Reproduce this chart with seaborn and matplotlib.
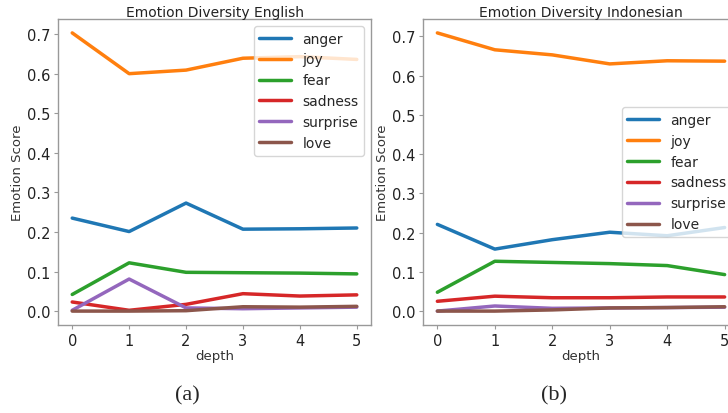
import matplotlib
matplotlib.use("Agg")
import matplotlib.pyplot as plt
import seaborn as sns
import pandas as pd

depth = [0, 1, 2, 3, 4, 5]
emotions = ["anger", "joy", "fear", "sadness", "surprise", "love"]

en_anger = [0.235, 0.201, 0.273, 0.207, 0.208, 0.210]
en_joy = [0.703, 0.600, 0.609, 0.639, 0.643, 0.636]
en_fear = [0.042, 0.122, 0.098, 0.097, 0.096, 0.094]
en_sadness = [0.023, 0.002, 0.017, 0.044, 0.038, 0.041]
en_surprise = [0.002, 0.081, 0.008, 0.006, 0.008, 0.010]
en_love = [0.0, 0.0, 0.001, 0.011, 0.010, 0.012]

id_anger = [0.221, 0.158, 0.182, 0.201, 0.192, 0.213]
id_joy = [0.709, 0.666, 0.653, 0.630, 0.638, 0.637]
id_fear = [0.048, 0.127, 0.124, 0.121, 0.116, 0.093]
id_sadness = [0.025, 0.038, 0.034, 0.034, 0.036, 0.036]
id_surprise = [0.0, 0.013, 0.007, 0.008, 0.009, 0.010]
id_love = [0.0, 0.0, 0.003, 0.008, 0.009, 0.011]

titles = ["Emotion Diversity English", "Emotion Diversity Indonesian"]
captions = ["(a)", "(b)"]

en = [en_anger, en_joy, en_fear, en_sadness, en_surprise, en_love]
idn = [id_anger, id_joy, id_fear, id_sadness, id_surprise, id_love]


def long_df(series):
    rows = []
    for emo, vals in zip(emotions, series):
        for d, v in zip(depth, vals):
            rows.append({"depth": d, "score": v, "emotion": emo})
    return pd.DataFrame(rows)


sns.set_style("white")
plt.rcParams["font.family"] = ["DejaVu Sans"]

fig = plt.figure(figsize=(7.28, 4.14), dpi=100)
W, H = 728, 414
ax_boxes = [(58, 20, 371, 326), (423, 20, 739, 326)]
legend_locs = ["upper right", "center right"]
cap_x = [187, 554]

for i, (series, box) in enumerate(zip([en, idn], ax_boxes)):
    x0, y0, x1, y1 = box
    ax = fig.add_axes([x0 / W, 1 - y1 / H, (x1 - x0) / W, (y1 - y0) / H])
    df = long_df(series)
    sns.lineplot(data=df, x="depth", y="score", hue="emotion",
                 hue_order=emotions, palette="tab10", linewidth=2.5, ax=ax)
    ax.set_title(titles[i], fontsize=10, color="#222222", pad=2.5)
    ax.set_xlabel("depth", fontsize=9.5, color="#333333", labelpad=1)
    ax.set_ylabel("Emotion Score", fontsize=9.5, color="#333333", labelpad=2)
    ax.set_xticks(depth)
    ax.set_yticks([0.0, 0.1, 0.2, 0.3, 0.4, 0.5, 0.6, 0.7])
    ax.tick_params(axis="both", labelsize=10.5, colors="#999999",
                   labelcolor="#222222", length=3, width=0.8, pad=2.5,
                   bottom=True, left=True)
    for s in ax.spines.values():
        s.set_color("#999999")
        s.set_linewidth(1.0)
    handles, labels = ax.get_legend_handles_labels()
    leg = ax.legend(handles, labels, loc=legend_locs[i], fontsize=10,
                    handlelength=2.3, frameon=True, framealpha=0.8,
                    edgecolor="#cccccc", fancybox=True)
    for lh in leg.get_lines():
        lh.set_linewidth(2.5)
    fig.text(cap_x[i] / W, 1 - 396 / H, captions[i], ha="center", va="center",
             fontsize=16, family=["Liberation Serif", "DejaVu Serif"])

fig.savefig("out.png", dpi=100)
